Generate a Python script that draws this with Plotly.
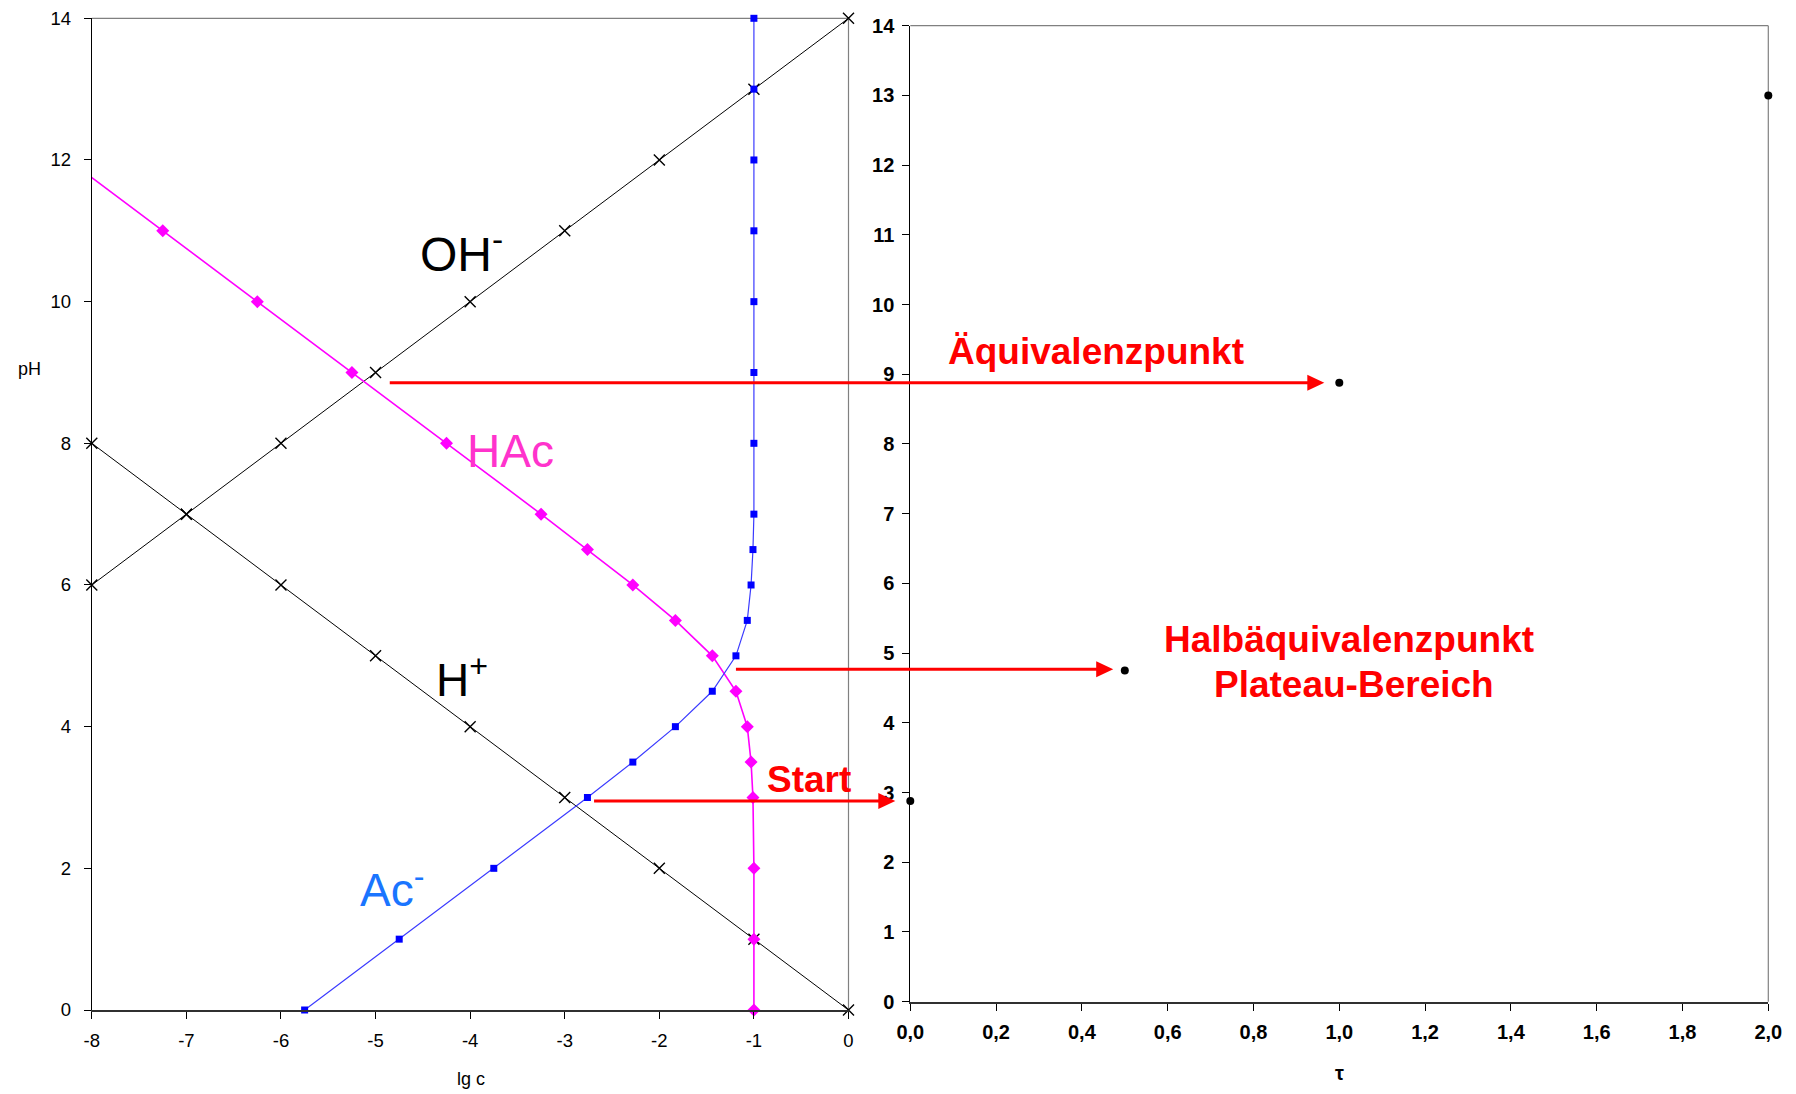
import plotly.graph_objects as go

W, H = 1796, 1094

# --- Logarithmic diagram of acetic acid (c0 = 0.1 mol/L, pKa 4.75) ---
# H+ and OH- lines
lgc_h = [-8, -7, -6, -5, -4, -3, -2, -1, 0]
ph_h = [8, 7, 6, 5, 4, 3, 2, 1, 0]
lgc_oh = [-8, -7, -6, -5, -4, -3, -2, -1, 0]
ph_oh = [6, 7, 8, 9, 10, 11, 12, 13, 14]

# HAc and Ac- curves
ph_species = [0, 1, 2, 3, 3.5, 4, 4.5, 5, 5.5, 6, 6.5, 7, 8, 9, 10, 11, 12, 13, 14]
lgc_hac = [-1.0, -1.0, -1.0, -1.01, -1.03, -1.07, -1.19, -1.44, -1.83, -2.28,
           -2.76, -3.25, -4.25, -5.25, -6.25, -7.25, -8.25, -9.25, -10.25]
lgc_ac = [-5.75, -4.75, -3.75, -2.76, -2.28, -1.83, -1.44, -1.19, -1.07, -1.03,
          -1.01, -1.0, -1.0, -1.0, -1.0, -1.0, -1.0, -1.0, -1.0]

# --- Titration curve points (degree of titration tau vs pH) ---
tau = [0.0, 0.5, 1.0, 2.0]
ph_titration = [2.88, 4.75, 8.88, 13.0]

# Connections from the diagram to the titration curve:
# lg c of the tail, tau of the head, pH
link_lgc = [-2.69, -1.19, -4.85]
link_tau = [-0.035, 0.473, 0.965]
link_ph = [2.88, 4.77, 8.88]

# Tick labels
left_x_ticks = [-8, -7, -6, -5, -4, -3, -2, -1, 0]
left_x_text = ["-8", "-7", "-6", "-5", "-4", "-3", "-2", "-1", "0"]
left_y_ticks = [0, 2, 4, 6, 8, 10, 12, 14]
right_x_ticks = [0.0, 0.2, 0.4, 0.6, 0.8, 1.0, 1.2, 1.4, 1.6, 1.8, 2.0]
right_x_text = ["0,0", "0,2", "0,4", "0,6", "0,8", "1,0", "1,2", "1,4", "1,6", "1,8", "2,0"]
right_y_ticks = list(range(0, 15))

# --- plot boxes in pixels (left, right, top, bottom) ---
LBOX = (91.8, 848.5, 18.3, 1010.0)
RBOX = (910.3, 1768.3, 25.7, 1001.7)
LX_RANGE, LY_RANGE = (-8, 0), (0, 14)
RX_RANGE, RY_RANGE = (0, 2), (0, 14)


def dom_x(box):
    return [box[0] / W, box[1] / W]


def dom_y(box):
    return [(H - box[3]) / H, (H - box[2]) / H]


def px_x(v, box, rng):
    return box[0] + (v - rng[0]) / (rng[1] - rng[0]) * (box[1] - box[0])


def px_y(v, box, rng):
    return box[3] - (v - rng[0]) / (rng[1] - rng[0]) * (box[3] - box[2])


FONT = "Liberation Sans, Arial, sans-serif"
MAGENTA = "#FF00FF"
BLUE = "#0000FF"
RED = "#FF0000"

fig = go.Figure()

# black lines with thin crosses
for xs, ys in ((lgc_h, ph_h), (lgc_oh, ph_oh)):
    fig.add_trace(go.Scatter(
        x=xs, y=ys, mode="lines+markers", xaxis="x", yaxis="y",
        line=dict(color="black", width=1),
        marker=dict(symbol="x-thin-open", size=11, line=dict(color="black", width=1.4)),
        cliponaxis=False, showlegend=False, hoverinfo="skip"))

# HAc: line over the full range, markers only inside the plot
fig.add_trace(go.Scatter(
    x=lgc_hac, y=ph_species, mode="lines", xaxis="x", yaxis="y",
    line=dict(color=MAGENTA, width=1.6), showlegend=False, hoverinfo="skip"))
hac_in = [(x, y) for x, y in zip(lgc_hac, ph_species) if x >= LX_RANGE[0]]
fig.add_trace(go.Scatter(
    x=[p[0] for p in hac_in], y=[p[1] for p in hac_in], mode="markers",
    xaxis="x", yaxis="y",
    marker=dict(symbol="diamond", size=10, color=MAGENTA),
    cliponaxis=False, showlegend=False, hoverinfo="skip"))

# Ac-
fig.add_trace(go.Scatter(
    x=lgc_ac, y=ph_species, mode="lines+markers", xaxis="x", yaxis="y",
    line=dict(color="#3A3AFF", width=1.2),
    marker=dict(symbol="square", size=7, color=BLUE),
    cliponaxis=False, showlegend=False, hoverinfo="skip"))

# titration points
fig.add_trace(go.Scatter(
    x=tau, y=ph_titration, mode="markers", xaxis="x2", yaxis="y2",
    marker=dict(symbol="circle", size=8, color="black"),
    cliponaxis=False, showlegend=False, hoverinfo="skip"))

# plot-area borders (top and right in grey)
shapes = []
for ax in ("x", "y"), ("x2", "y2"):
    shapes.append(dict(type="line", xref=f"{ax[0]} domain", yref=f"{ax[1]} domain",
                       x0=0, x1=1, y0=1, y1=1,
                       line=dict(color="#808080", width=1.2), layer="below"))
    shapes.append(dict(type="line", xref=f"{ax[0]} domain", yref=f"{ax[1]} domain",
                       x0=1, x1=1, y0=0, y1=1,
                       line=dict(color="#808080", width=1.2), layer="below"))

# red arrows from the diagram to the titration curve (paper coordinates)
HEAD_LEN, HEAD_HALF = 17, 8
for lgc_tail, tau_head, ph in zip(link_lgc, link_tau, link_ph):
    x_tail = px_x(lgc_tail, LBOX, LX_RANGE)
    x_head = px_x(tau_head, RBOX, RX_RANGE)
    y_px = px_y(ph, RBOX, RY_RANGE)
    fx = lambda p: p / W
    fy = lambda p: 1 - p / H
    shapes.append(dict(type="line", xref="paper", yref="paper",
                       x0=fx(x_tail), x1=fx(x_head - HEAD_LEN + 2),
                       y0=fy(y_px), y1=fy(y_px),
                       line=dict(color=RED, width=3)))
    path = (f"M{fx(x_head)},{fy(y_px)} "
            f"L{fx(x_head - HEAD_LEN)},{fy(y_px - HEAD_HALF)} "
            f"L{fx(x_head - HEAD_LEN)},{fy(y_px + HEAD_HALF)} Z")
    shapes.append(dict(type="path", xref="paper", yref="paper", path=path,
                       fillcolor=RED, line=dict(color=RED, width=0)))

annotations = []


def label(text, x, y, size, color, bold=False):
    annotations.append(dict(
        x=x / W, y=1 - y / H, xref="paper", yref="paper", text=text,
        showarrow=False, xanchor="center", yanchor="middle",
        font=dict(family=FONT, size=size, color=color,
                  weight="bold" if bold else "normal")))


# species labels
label("OH<sup>-</sup>", 462, 251, 48, "black")
label("HAc", 510, 451, 46, "#FF33CC")
label("H<sup>+</sup>", 462, 677, 46, "black")
label("Ac<sup>-</sup>", 392, 887, 46, "#1A75FF")

# red captions
label("Äquivalenzpunkt", 1096, 351, 37, RED, bold=True)
label("Halbäquivalenzpunkt", 1349, 639, 37, RED, bold=True)
label("Plateau-Bereich", 1354, 684, 37, RED, bold=True)
label("Start", 809, 779, 37, RED, bold=True)

# axis titles
label("pH", 29, 369, 18, "black")
label("lg c", 471, 1079, 18, "black")
label("τ", 1339, 1073, 20, "black", bold=True)

left_tick_font = dict(family=FONT, size=18.5, color="black")
right_tick_font = dict(family=FONT, size=20, color="black", weight="bold")

common = dict(ticks="outside", ticklen=7, tickcolor="black", showgrid=False,
              zeroline=False, automargin=False)

fig.update_layout(
    width=W, height=H,
    margin=dict(l=0, r=0, t=0, b=0, pad=0, autoexpand=False),
    paper_bgcolor="white", plot_bgcolor="white",
    showlegend=False,
    annotations=annotations,
    shapes=shapes,
    xaxis=dict(domain=dom_x(LBOX), range=list(LX_RANGE), anchor="y",
               tickvals=left_x_ticks, ticktext=left_x_text,
               showline=True, linecolor="#303030", linewidth=2,
               tickfont=left_tick_font, ticklabelstandoff=6, **common),
    yaxis=dict(domain=dom_y(LBOX), range=list(LY_RANGE), anchor="x",
               tickvals=left_y_ticks,
               showline=True, linecolor="black", linewidth=1,
               tickfont=left_tick_font, ticklabelstandoff=9, **common),
    xaxis2=dict(domain=dom_x(RBOX), range=list(RX_RANGE), anchor="y2",
                tickvals=right_x_ticks, ticktext=right_x_text,
                showline=True, linecolor="#303030", linewidth=2,
                tickfont=right_tick_font, ticklabelstandoff=4, **common),
    yaxis2=dict(domain=dom_y(RBOX), range=list(RY_RANGE), anchor="x2",
                tickvals=right_y_ticks,
                showline=True, linecolor="black", linewidth=1,
                tickfont=right_tick_font, ticklabelstandoff=4, **common),
)

fig.write_html("out.html")
